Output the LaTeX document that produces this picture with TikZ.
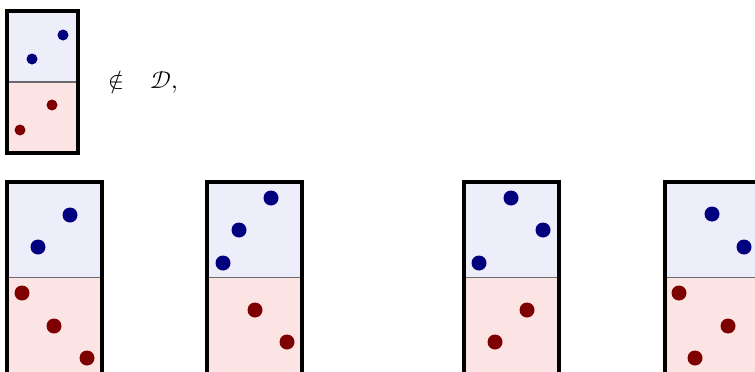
\documentclass[tikz,border=0pt]{standalone}
\usepackage{tikz}
\usepackage{unicode-math}
\setmathfont{Latin Modern Math}
\definecolor{cBlueBg}{HTML}{EEEEFA}
\definecolor{cRedBg}{HTML}{FCE4E4}
\definecolor{cBlueDot}{HTML}{00007F}
\definecolor{cRedDot}{HTML}{7F0000}
\definecolor{cLine}{HTML}{6A6A6A}
\tikzset{
  half-blue/.style={fill=cBlueBg},
  half-red/.style={fill=cRedBg},
  split/.style={draw=cLine,line width=1.2pt},
  frame/.style={draw=black,line width=3.5pt},
  dot-blue/.style={circle,fill=cBlueDot,inner sep=0pt,minimum size=15pt},
  dot-red/.style={circle,fill=cRedDot,inner sep=0pt,minimum size=15pt},
  dot-small/.style={minimum size=11pt},
  label-math/.style={font=\fontsize{24}{28}\selectfont,inner sep=0pt},
}

\begin{document}
\begin{tikzpicture}[x=1pt,y=-1pt]
  \useasboundingbox (0,0) rectangle (755,372);
  \clip (0,0) rectangle (755,372);

  % small example, not in D
  \fill[half-blue] (7,11) rectangle (78,82);
  \fill[half-red]  (7,82) rectangle (78,153);
  \draw[split] (7,82) -- (78,82);
  \draw[frame] (7,11) rectangle (78,153);
  \node[dot-blue,dot-small] (s1) at (63,35) {};
  \node[dot-blue,dot-small] (s2) at (32,59) {};
  \node[dot-red,dot-small]  (s3) at (52,105) {};
  \node[dot-red,dot-small]  (s4) at (20,130) {};
  \node[label-math,anchor=west] (notin) at (108,82) {$∉\hspace{20pt}\mathcal{D},$};

  % the four boxes below
  \foreach \bx in {7,207,464,665} {
    \fill[half-blue] (\bx,182) rectangle ++(95,95.5);
    \fill[half-red]  (\bx,277.5) rectangle ++(95,100);
    \draw[split] (\bx,277.5) -- ++(95,0);
    \draw[frame] (\bx,182) rectangle ++(95,196);
  }

  % box 1
  \node[dot-blue] (a1) at (70,215) {};
  \node[dot-blue] (a2) at (38,247) {};
  \node[dot-red]  (a3) at (22,293) {};
  \node[dot-red]  (a4) at (54,326) {};
  \node[dot-red]  (a5) at (87,358) {};
  % box 2
  \node[dot-blue] (b1) at (271,198) {};
  \node[dot-blue] (b2) at (239,230) {};
  \node[dot-blue] (b3) at (223,263) {};
  \node[dot-red]  (b4) at (255,310) {};
  \node[dot-red]  (b5) at (287,342) {};
  % box 3
  \node[dot-blue] (c1) at (511,198) {};
  \node[dot-blue] (c2) at (543,230) {};
  \node[dot-blue] (c3) at (479,263) {};
  \node[dot-red]  (c4) at (527,310) {};
  \node[dot-red]  (c5) at (495,342) {};
  % box 4
  \node[dot-blue] (d1) at (712,214) {};
  \node[dot-blue] (d2) at (744,247) {};
  \node[dot-red]  (d3) at (679,293) {};
  \node[dot-red]  (d4) at (728,326) {};
  \node[dot-red]  (d5) at (695,358) {};
\end{tikzpicture}
\end{document}
